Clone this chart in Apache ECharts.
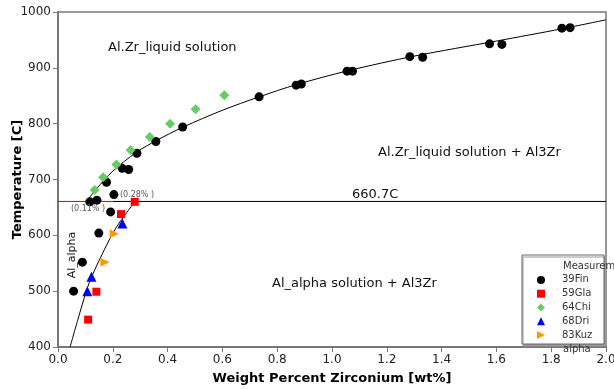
<!DOCTYPE html>
<html><head><meta charset="utf-8">
<script src="https://cdn.jsdelivr.net/npm/echarts@6/dist/echarts.min.js"></script>
<style>html,body{margin:0;padding:0;background:#fff}#c{width:614px;height:389px}</style>
</head><body><div id="c"></div>
<script>
// Measured data (x: wt% Zr, y: temperature C)
const fin39 = [[0.057,500],[0.089,552],[0.116,660],[0.142,663],[0.149,604],[0.177,695],[0.192,642],[0.204,673],[0.234,720],[0.258,718],[0.288,747],[0.357,768],[0.455,794],[0.734,848],[0.869,869],[0.888,871],[1.055,894],[1.075,894],[1.284,920],[1.331,919],[1.575,943],[1.62,942],[1.839,971],[1.869,972]];
const gla59 = [[0.11,449],[0.14,499],[0.23,638],[0.28,660]];
const chi64 = [[0.134,681],[0.165,704],[0.213,727],[0.265,753],[0.335,776],[0.409,800],[0.502,826],[0.607,851]];
const dri68 = [[0.107,500],[0.122,526],[0.235,621]];
const kuz83 = [[0.171,552],[0.205,603]];
// Phase boundaries
const liquidus = [[0.104,660.7],[0.14,683],[0.2,715],[0.287,749],[0.36,770],[0.457,794],[0.6,824],[0.734,848],[0.87,870],[1.06,895],[1.3,921],[1.6,948],[1.84,970],[2.0,986]];
const solvus = [[0.044,400],[0.073,450],[0.104,501],[0.122,525],[0.16,565],[0.199,603],[0.226,624],[0.281,660.7]];
const peritecticRed = [[0,660.7],[0.2,660.7]];
const peritecticBlack = [[0.2,660.7],[2.0,660.7]];
const seriesNames = ['39Fin','59Gla','64Chi','68Dri','83Kuz'];

const chart = echarts.init(document.getElementById('c'));
const F = 'DejaVu Sans';
const RIGHT_TRI = 'path://M0,0L10,5L0,10Z';
const sc = (name, data, symbol, size, color) => ({
  name, type:'scatter', data, symbol, symbolSize:size,
  itemStyle:{color, opacity:1}, z:5
});
const ln = (data, color, smooth) => ({
  type:'line', data, showSymbol:false, symbol:'none', smooth: smooth?0.3:false,
  lineStyle:{color, width:1}, z:3, silent:true
});
chart.setOption({
  animation:false,
  textStyle:{fontFamily:F},
  grid:{left:58, right:8, top:12, bottom:42, containLabel:false, outerBoundsMode:'none',
    show:true, borderColor:'#777', borderWidth:1.5},
  xAxis:{type:'value', min:0, max:2, interval:0.2,
    name:'Weight Percent Zirconium [wt%]', nameLocation:'middle', nameGap:25, nameMoveOverlap:false,
    nameTextStyle:{fontFamily:F, fontWeight:'bold', fontSize:13, color:'#000'},
    axisLine:{lineStyle:{color:'#777', width:2}},
    axisTick:{show:true, length:5, lineStyle:{color:'#777'}},
    axisLabel:{fontFamily:F, fontSize:12, color:'#222', margin:7, formatter:v=>v.toFixed(1)},
    splitLine:{show:false}},
  yAxis:{type:'value', min:400, max:1000, interval:100,
    name:'Temperature [C]', nameLocation:'middle', nameGap:34, nameMoveOverlap:false,
    nameTextStyle:{fontFamily:F, fontWeight:'bold', fontSize:13, color:'#000'},
    axisLine:{show:true, lineStyle:{color:'#777', width:2}},
    axisTick:{show:true, length:5, lineStyle:{color:'#777'}},
    axisLabel:{fontFamily:F, fontSize:12, color:'#222', margin:7, formatter:v=>String(v)},
    splitLine:{show:false}},
  legend:{data:seriesNames.map(n=>n==='83Kuz'?{name:n, icon:RIGHT_TRI}:{name:n}),
    orient:'vertical', left:537, top:273, itemWidth:8, itemHeight:8, itemGap:0,
    padding:0,
    textStyle:{fontFamily:F, fontSize:10, color:'#333', lineHeight:13.8, padding:[0,0,0,12]}},
  graphic:[
    {type:'rect', shape:{x:522, y:255, width:82, height:89}, style:{fill:'#fff', stroke:'#666', lineWidth:1,
      shadowBlur:0, shadowOffsetX:1, shadowOffsetY:2, shadowColor:'#999'}, z:1},
    {type:'text', x:563, y:266, style:{text:'Measurement', font:'10px '+F, fill:'#333', textVerticalAlign:'middle'}, z:10},
    {type:'text', x:563, y:349, style:{text:'alpha', font:'10px '+F, fill:'#333', textVerticalAlign:'middle'}, z:10},
    {type:'text', x:108, y:48, style:{text:'Al.Zr_liquid solution', font:'13px '+F, fill:'#111', textVerticalAlign:'middle'}, z:10},
    {type:'text', x:378, y:153, style:{text:'Al.Zr_liquid solution + Al3Zr', font:'13px '+F, fill:'#111', textVerticalAlign:'middle'}, z:10},
    {type:'text', x:352, y:195, style:{text:'660.7C', font:'13px '+F, fill:'#111', textVerticalAlign:'middle'}, z:10},
    {type:'text', x:272, y:284, style:{text:'Al_alpha solution + Al3Zr', font:'13px '+F, fill:'#111', textVerticalAlign:'middle'}, z:10},
    {type:'text', x:72, y:255, rotation:Math.PI/2, style:{text:'Al_alpha', font:'11px '+F, fill:'#111', textAlign:'center', textVerticalAlign:'middle'}, z:10},
    {type:'text', x:88, y:209, style:{text:'(0.11% )', font:'8px '+F, fill:'#555', textAlign:'center', textVerticalAlign:'middle'}, z:10},
    {type:'text', x:137, y:195, style:{text:'(0.28% )', font:'8px '+F, fill:'#555', textAlign:'center', textVerticalAlign:'middle'}, z:10}
  ],
  series:[
    ln(peritecticRed,'#e00000',false),
    ln(peritecticBlack,'#000',false),
    ln(liquidus,'#000',true),
    ln(solvus,'#000',true),
    sc('39Fin', fin39, 'circle', 9, '#000'),
    sc('59Gla', gla59, 'rect', 8, '#ff0000'),
    sc('64Chi', chi64, 'diamond', 10, '#66cc66'),
    sc('68Dri', dri68, 'triangle', 10, '#0000ff'),
    sc('83Kuz', kuz83, RIGHT_TRI, 9, '#ff9900')
  ]
});
</script></body></html>
